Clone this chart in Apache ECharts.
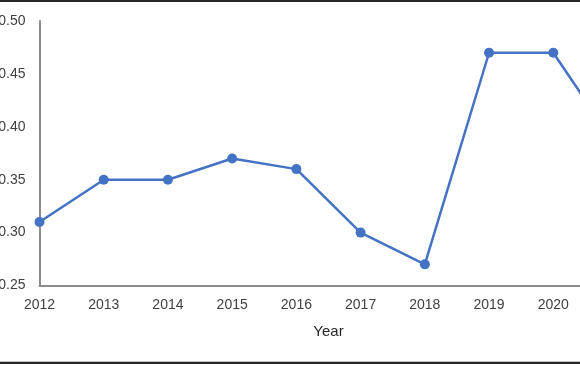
<!DOCTYPE html>
<html>
<head>
<meta charset="utf-8">
<script src="https://cdn.jsdelivr.net/npm/echarts@6/dist/echarts.min.js"></script>
<style>
html,body{margin:0;padding:0;background:#fff;}
#c{width:580px;height:366px;}
</style>
</head>
<body>
<div id="c"></div>
<script>
var years = ['2012','2013','2014','2015','2016','2017','2018','2019','2020','2021'];
var values = [0.31, 0.35, 0.35, 0.37, 0.36, 0.30, 0.27, 0.47, 0.47, 0.38];
var xAxisName = 'Year';

var chart = echarts.init(document.getElementById('c'), null, {renderer:'canvas'});
var font = 'Liberation Sans';
chart.setOption({
  animation: false,
  backgroundColor: '#fff',
  grid: {left: 39.5, right: -37.5, top: 21, bottom: 80.5, containLabel: false, outerBoundsMode: 'none'},
  xAxis: {
    type: 'category',
    data: years,
    boundaryGap: false,
    name: xAxisName,
    nameLocation: 'middle',
    nameGap: 39,
    nameTextStyle: {fontFamily: font, fontSize: 15, color: '#262626'},
    axisLine: {lineStyle: {color: '#8c8c8c', width: 2}},
    axisTick: {show: false},
    axisLabel: {fontFamily: font, fontSize: 14, color: '#404040', margin: 13},
    splitLine: {show: false}
  },
  yAxis: {
    type: 'value',
    min: 0.25,
    max: 0.5,
    interval: 0.05,
    axisLine: {show: true, lineStyle: {color: '#8c8c8c', width: 2}},
    axisTick: {show: false},
    splitLine: {show: false},
    axisLabel: {fontFamily: font, fontSize: 14, color: '#404040', margin: 14,
      formatter: function(v){ return v.toFixed(2); }}
  },
  series: [{
    type: 'line',
    data: values,
    symbol: 'circle',
    symbolSize: 10,
    lineStyle: {color: '#4472C4', width: 2.5},
    itemStyle: {color: '#4472C4'},
    clip: false
  }],
  graphic: [
    {type: 'rect', shape: {x: 0, y: 0, width: 580, height: 2}, style: {fill: '#262626'}, z: 100},
    {type: 'rect', shape: {x: 0, y: 361, width: 580, height: 1}, style: {fill: '#bfbfbf'}, z: 100},
    {type: 'rect', shape: {x: 0, y: 362, width: 580, height: 2}, style: {fill: '#262626'}, z: 100}
  ]
});
</script>
</body>
</html>
